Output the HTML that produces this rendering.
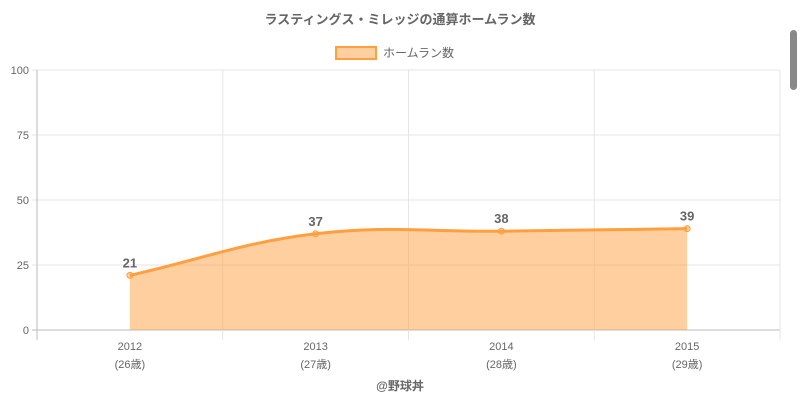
<!DOCTYPE html>
<html><head><meta charset="utf-8"><style>
body{margin:0;background:#fff;width:800px;height:400px;overflow:hidden;font-family:"Liberation Sans","Noto Sans CJK JP",sans-serif}
svg{position:absolute;left:0;top:0}
</style></head><body>
<svg id="c" width="800" height="400">
<text x="400" y="24" text-anchor="middle" font-size="13" font-weight="bold" fill="#666">ラスティングス・ミレッジの通算ホームラン数</text>
<g>
<rect x="336" y="47" width="40" height="12" fill="rgba(255,159,64,0.5)" stroke="#ff9f40" stroke-width="2"/>
<text x="383" y="57" font-size="12" fill="#666">ホームラン数</text>
</g>
<text x="400" y="390" text-anchor="middle" font-size="12" font-weight="bold" fill="#666">@野球丼</text>
<rect x="790" y="30" width="7" height="60" rx="3.5" fill="#888"/>
<g id="grid"></g><g id="marks"></g>
</svg>
<script>
const categories=["2012","2013","2014","2015"];
const ages=["(26歳)","(27歳)","(28歳)","(29歳)"];
const values=[21,37,38,39];
const yTicks=[0,25,50,75,100];
const NS="http://www.w3.org/2000/svg";
const L=37,R=780,T=70,B=330;
const bw=(R-L)/categories.length;
const x=i=>L+bw*(i+0.5);
const y=v=>B-(v/100)*(B-T);
function mk(tag,attrs,parent){const e=document.createElementNS(NS,tag);for(const k in attrs)e.setAttribute(k,attrs[k]);parent.appendChild(e);return e;}
const g=document.getElementById('grid'),m=document.getElementById('marks');
yTicks.forEach(t=>{
 const ln=mk('line',{x1:L-5,x2:R,y1:y(t),y2:y(t),stroke:t===0?'#bbb':'#e5e5e5'},g);
 
 
 const tx=mk('text',{x:L-8,y:y(t)+4,'text-anchor':'end','font-size':11,fill:'#666'},g);
 tx.textContent=t;
 
 
});
for(let i=0;i<=categories.length;i++){
 const ln=mk('line',{x1:L+bw*i,x2:L+bw*i,y1:T,y2:B+10,stroke:i===0?'#bbb':'#e5e5e5'},g);
 
 
}
categories.forEach((c,i)=>{
 const t1=mk('text',{x:x(i),y:350,'text-anchor':'middle','font-size':11,fill:'#666'},g);
 t1.textContent=c;
 
 
 const t2=mk('text',{x:x(i),y:368,'text-anchor':'middle','font-size':11,fill:'#666'},g);
 t2.textContent=ages[i];
 
 
});
const pts=values.map((v,i)=>[x(i),y(v)]);
const tension=0.4;
let d=`M${pts[0][0]},${pts[0][1]}`;
const cps=pts.map((p,i)=>{
 const pr=pts[Math.max(0,i-1)],nx=pts[Math.min(pts.length-1,i+1)];
 const d01=Math.hypot(p[0]-pr[0],p[1]-pr[1]),d12=Math.hypot(nx[0]-p[0],nx[1]-p[1]);
 let fa=d01/(d01+d12)||0,fb=d12/(d01+d12)||0;fa*=tension;fb*=tension;
 return {prev:[p[0]-fa*(nx[0]-pr[0]),p[1]-fa*(nx[1]-pr[1])],next:[p[0]+fb*(nx[0]-pr[0]),p[1]+fb*(nx[1]-pr[1])]};
});
for(let i=1;i<pts.length;i++){
 const a=cps[i-1].next,b=cps[i].prev;
 d+=` C${a[0]},${a[1]} ${b[0]},${b[1]} ${pts[i][0]},${pts[i][1]}`;
}
const area=mk('path',{d:d+` L${pts[pts.length-1][0]},${B} L${pts[0][0]},${B} Z`,fill:'rgba(255,159,64,0.5)'},m);


const line=mk('path',{d:d,fill:'none',stroke:'#ff9f40','stroke-width':3},m);


pts.forEach((p,i)=>{
 const c=mk('circle',{cx:p[0],cy:p[1],r:3,fill:'rgba(255,159,64,0.5)',stroke:'#ff9f40','stroke-width':1},m);
 
 
 const t=mk('text',{x:p[0],y:p[1]-8,'text-anchor':'middle','font-size':13,'font-weight':'bold',fill:'#666'},m);
 t.textContent=values[i];
 
 
});
</script>
</body></html>
